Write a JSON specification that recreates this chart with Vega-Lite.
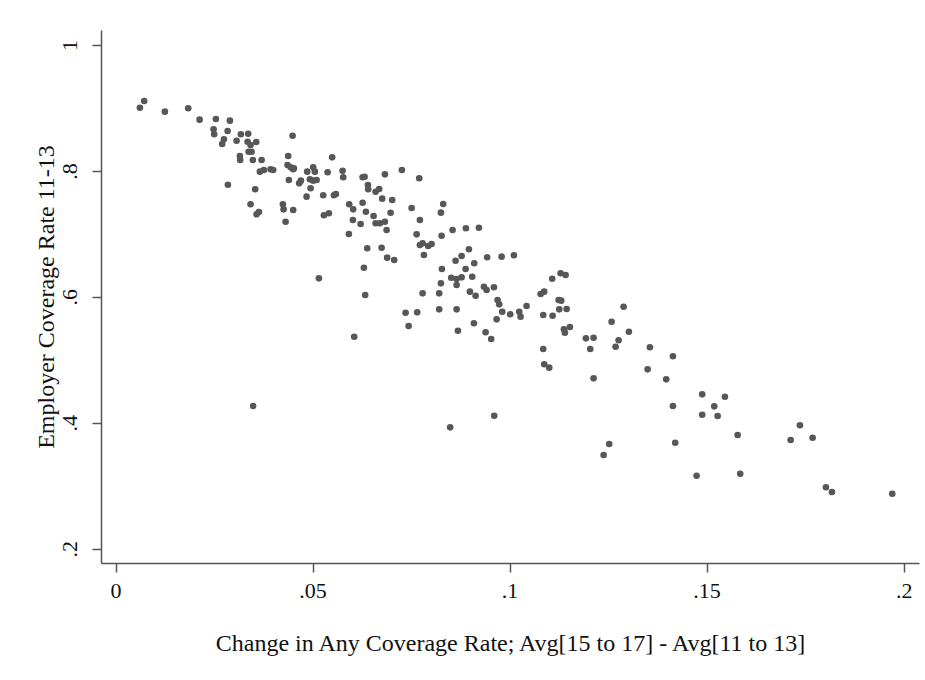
{
  "$schema": "https://vega.github.io/schema/vega-lite/v6.json",
  "width": 818,
  "height": 533,
  "autosize": "none",
  "padding": {"left": 101, "top": 30, "right": 6, "bottom": 117},
  "background": "white",
  "config": {"view": {"stroke": null}, "font": "Liberation Serif"},
  "data": {"values": [
    {"chg":0.00617,"emp":0.9004},{"chg":0.00726,"emp":0.9111},{"chg":0.01251,"emp":0.8941},{"chg":0.01843,"emp":0.8995},
    {"chg":0.02132,"emp":0.8814},{"chg":0.02546,"emp":0.8825},{"chg":0.02901,"emp":0.8798},{"chg":0.02487,"emp":0.8661},
    {"chg":0.02503,"emp":0.8582},{"chg":0.02843,"emp":0.8634},{"chg":0.02749,"emp":0.8502},{"chg":0.02706,"emp":0.8428},
    {"chg":0.03071,"emp":0.8480},{"chg":0.03180,"emp":0.8582},{"chg":0.03365,"emp":0.8591},{"chg":0.03350,"emp":0.8464},
    {"chg":0.03426,"emp":0.8412},{"chg":0.03569,"emp":0.8459},{"chg":0.04492,"emp":0.8559},{"chg":0.03376,"emp":0.8305},
    {"chg":0.03452,"emp":0.8305},{"chg":0.03155,"emp":0.8237},{"chg":0.03162,"emp":0.8173},{"chg":0.03485,"emp":0.8173},
    {"chg":0.03706,"emp":0.8173},{"chg":0.03662,"emp":0.7988},{"chg":0.03764,"emp":0.8015},{"chg":0.03934,"emp":0.8026},
    {"chg":0.04000,"emp":0.8015},{"chg":0.04381,"emp":0.8237},{"chg":0.04365,"emp":0.8094},{"chg":0.04442,"emp":0.8057},
    {"chg":0.04525,"emp":0.8042},{"chg":0.04508,"emp":0.8026},{"chg":0.04398,"emp":0.7856},{"chg":0.02850,"emp":0.7781},
    {"chg":0.03543,"emp":0.7708},{"chg":0.03426,"emp":0.7470},{"chg":0.03579,"emp":0.7311},{"chg":0.03637,"emp":0.7348},
    {"chg":0.04246,"emp":0.7470},{"chg":0.04264,"emp":0.7390},{"chg":0.04508,"emp":0.7379},{"chg":0.04315,"emp":0.7193},
    {"chg":0.04660,"emp":0.7803},{"chg":0.04863,"emp":0.7988},{"chg":0.05015,"emp":0.8057},{"chg":0.05058,"emp":0.7988},
    {"chg":0.04931,"emp":0.7867},{"chg":0.05015,"emp":0.7845},{"chg":0.05102,"emp":0.7856},{"chg":0.04949,"emp":0.7724},
    {"chg":0.04703,"emp":0.7845},{"chg":0.04848,"emp":0.7591},{"chg":0.05497,"emp":0.8216},{"chg":0.05381,"emp":0.7978},
    {"chg":0.05761,"emp":0.8003},{"chg":0.05777,"emp":0.7899},{"chg":0.05269,"emp":0.7613},{"chg":0.05541,"emp":0.7613},
    {"chg":0.05591,"emp":0.7633},{"chg":0.05287,"emp":0.7295},{"chg":0.05414,"emp":0.7327},{"chg":0.05160,"emp":0.6294},
    {"chg":0.05929,"emp":0.7470},{"chg":0.06030,"emp":0.7390},{"chg":0.06269,"emp":0.7495},{"chg":0.06353,"emp":0.7352},
    {"chg":0.06023,"emp":0.7220},{"chg":0.06218,"emp":0.7157},{"chg":0.05921,"emp":0.6998},{"chg":0.06269,"emp":0.7899},
    {"chg":0.06320,"emp":0.7908},{"chg":0.06404,"emp":0.7776},{"chg":0.06411,"emp":0.7708},{"chg":0.06599,"emp":0.7670},
    {"chg":0.06690,"emp":0.7713},{"chg":0.06835,"emp":0.7946},{"chg":0.06766,"emp":0.7559},{"chg":0.07020,"emp":0.7538},
    {"chg":0.06548,"emp":0.7284},{"chg":0.06599,"emp":0.7168},{"chg":0.06708,"emp":0.7168},{"chg":0.06835,"emp":0.7193},
    {"chg":0.06878,"emp":0.7062},{"chg":0.06980,"emp":0.7336},{"chg":0.07266,"emp":0.8015},{"chg":0.07706,"emp":0.7883},
    {"chg":0.07513,"emp":0.7411},{"chg":0.07723,"emp":0.7220},{"chg":0.07640,"emp":0.6993},{"chg":0.07723,"emp":0.6823},
    {"chg":0.07792,"emp":0.6850},{"chg":0.07934,"emp":0.6808},{"chg":0.08020,"emp":0.6839},{"chg":0.07825,"emp":0.6665},
    {"chg":0.08315,"emp":0.7475},{"chg":0.08256,"emp":0.7337},{"chg":0.08274,"emp":0.6971},{"chg":0.08553,"emp":0.7062},
    {"chg":0.08891,"emp":0.7089},{"chg":0.09221,"emp":0.7098},{"chg":0.08967,"emp":0.6755},{"chg":0.08782,"emp":0.6649},
    {"chg":0.08629,"emp":0.6574},{"chg":0.09102,"emp":0.6533},{"chg":0.08883,"emp":0.6442},{"chg":0.08282,"emp":0.6442},
    {"chg":0.08518,"emp":0.6304},{"chg":0.08655,"emp":0.6283},{"chg":0.08782,"emp":0.6310},{"chg":0.08655,"emp":0.6188},
    {"chg":0.09051,"emp":0.6320},{"chg":0.08256,"emp":0.6215},{"chg":0.08213,"emp":0.6056},{"chg":0.07792,"emp":0.6056},
    {"chg":0.08992,"emp":0.6082},{"chg":0.09137,"emp":0.6018},{"chg":0.06386,"emp":0.6771},{"chg":0.06751,"emp":0.6780},
    {"chg":0.06893,"emp":0.6622},{"chg":0.07071,"emp":0.6585},{"chg":0.06302,"emp":0.6463},{"chg":0.06335,"emp":0.6029},
    {"chg":0.07360,"emp":0.5748},{"chg":0.07655,"emp":0.5754},{"chg":0.08213,"emp":0.5802},{"chg":0.08655,"emp":0.5802},
    {"chg":0.06056,"emp":0.5367},{"chg":0.03492,"emp":0.4266},{"chg":0.09431,"emp":0.6628},{"chg":0.09797,"emp":0.6638},
    {"chg":0.10109,"emp":0.6660},{"chg":0.09348,"emp":0.6161},{"chg":0.09416,"emp":0.6109},{"chg":0.09602,"emp":0.6152},
    {"chg":0.09695,"emp":0.5950},{"chg":0.09736,"emp":0.5881},{"chg":0.09812,"emp":0.5764},{"chg":0.10015,"emp":0.5723},
    {"chg":0.10244,"emp":0.5764},{"chg":0.10279,"emp":0.5685},{"chg":0.10431,"emp":0.5855},{"chg":0.09670,"emp":0.5643},
    {"chg":0.09094,"emp":0.5580},{"chg":0.08688,"emp":0.5462},{"chg":0.09391,"emp":0.5437},{"chg":0.09533,"emp":0.5330},
    {"chg":0.10787,"emp":0.6045},{"chg":0.10878,"emp":0.6082},{"chg":0.11081,"emp":0.6288},{"chg":0.11294,"emp":0.6374},
    {"chg":0.11421,"emp":0.6347},{"chg":0.11244,"emp":0.5950},{"chg":0.11310,"emp":0.5939},{"chg":0.11259,"emp":0.5802},
    {"chg":0.11447,"emp":0.5807},{"chg":0.10853,"emp":0.5712},{"chg":0.11091,"emp":0.5700},{"chg":0.11378,"emp":0.5484},
    {"chg":0.11404,"emp":0.5431},{"chg":0.11530,"emp":0.5521},{"chg":0.11937,"emp":0.5341},{"chg":0.12132,"emp":0.5351},
    {"chg":0.12046,"emp":0.5172},{"chg":0.10853,"emp":0.5172},{"chg":0.10878,"emp":0.4929},{"chg":0.11005,"emp":0.4875},
    {"chg":0.12132,"emp":0.4706},{"chg":0.12893,"emp":0.5843},{"chg":0.12589,"emp":0.5605},{"chg":0.13028,"emp":0.5446},
    {"chg":0.12766,"emp":0.5310},{"chg":0.12690,"emp":0.5208},{"chg":0.13561,"emp":0.5199},{"chg":0.14145,"emp":0.5056},
    {"chg":0.13503,"emp":0.4849},{"chg":0.13975,"emp":0.4690},{"chg":0.14888,"emp":0.4452},{"chg":0.15464,"emp":0.4414},
    {"chg":0.15193,"emp":0.4261},{"chg":0.14145,"emp":0.4266},{"chg":0.14888,"emp":0.4128},{"chg":0.15279,"emp":0.4107},
    {"chg":0.15787,"emp":0.3806},{"chg":0.14203,"emp":0.3683},{"chg":0.12528,"emp":0.3663},{"chg":0.12386,"emp":0.3488},
    {"chg":0.17368,"emp":0.3960},{"chg":0.17132,"emp":0.3726},{"chg":0.17690,"emp":0.3763},{"chg":0.14746,"emp":0.3159},
    {"chg":0.15853,"emp":0.3191},{"chg":0.18028,"emp":0.2976},{"chg":0.18180,"emp":0.2900},{"chg":0.19711,"emp":0.2873},
    {"chg":0.07437,"emp":0.5537},{"chg":0.09609,"emp":0.4112},{"chg":0.08492,"emp":0.3928}
  ]},
  "mark": {"type": "circle", "size": 44, "color": "#575757", "opacity": 1, "strokeWidth": 0},
  "encoding": {
    "x": {
      "field": "chg", "type": "quantitative",
      "scale": {"domain": [-0.0037, 0.2039], "nice": false, "zero": false},
      "axis": {
        "values": [0, 0.05, 0.1, 0.15, 0.2],
        "labelExpr": "replace(toString(datum.value), '0.', '.')",
        "grid": false,
        "title": "Change in Any Coverage Rate; Avg[15 to 17] - Avg[11 to 13]",
        "titleFont": "Liberation Serif", "titleFontSize": 24, "titleFontWeight": "normal", "titleColor": "#111",
        "titleY": 80, "titleBaseline": "middle",
        "labelFont": "Liberation Serif", "labelFontSize": 22, "labelColor": "#111",
        "labelPadding": 8, "labelFlush": false, "labelOverlap": false,
        "tickSize": 9, "tickColor": "#555", "tickWidth": 1.5,
        "domainColor": "#555", "domainWidth": 1.5
      }
    },
    "y": {
      "field": "emp", "type": "quantitative",
      "scale": {"domain": [0.1773, 1.0238], "nice": false, "zero": false},
      "axis": {
        "values": [0.2, 0.4, 0.6, 0.8, 1],
        "labelExpr": "replace(toString(datum.value), '0.', '.')",
        "grid": false,
        "title": "Employer Coverage Rate 11-13",
        "titleFont": "Liberation Serif", "titleFontSize": 24, "titleFontWeight": "normal", "titleColor": "#111",
        "titleX": -55, "titleBaseline": "middle", "titleAngle": -90,
        "labelFont": "Liberation Serif", "labelFontSize": 22, "labelColor": "#111",
        "labelAngle": -90, "labelAlign": "center", "labelBaseline": "bottom",
        "labelPadding": 11, "labelFlush": false, "labelOverlap": false,
        "tickSize": 9, "tickColor": "#555", "tickWidth": 1.5,
        "domainColor": "#555", "domainWidth": 1.5
      }
    }
  }
}
